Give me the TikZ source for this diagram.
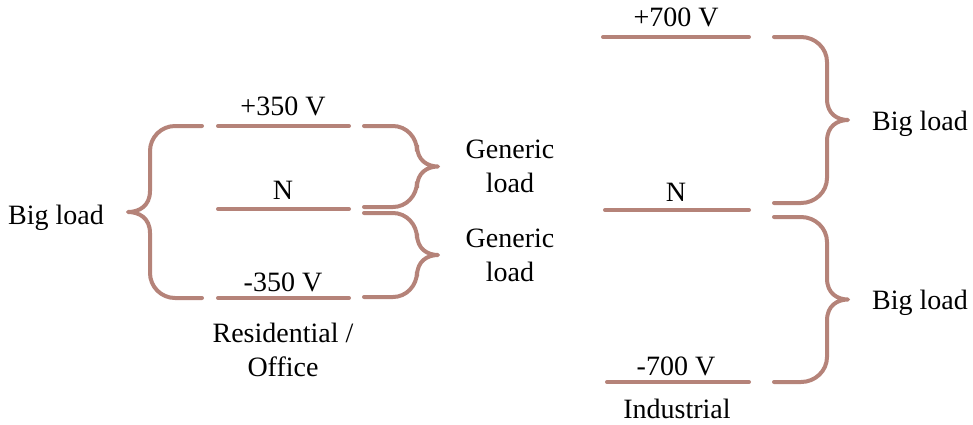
\documentclass[tikz,border=0pt]{standalone}
\usepackage{fontspec}
\setmainfont{Liberation Serif}
\definecolor{brc}{RGB}{181,131,121}
\newcommand{\mybrace}[6]{%
  \pgfmathsetmacro{\ym}{(#4+#5)/2}%
  \draw[wire] (#1,#4) -- ({#2-#6},#4) .. controls ({#2-0.45*#6},#4) and (#2,{#4+0.45*25}) .. (#2,{#4+25})
    -- (#2,{\ym-21}) .. controls (#2,{\ym-6}) and ({(#2+#3)/2},\ym) .. (#3,\ym)
    .. controls ({(#2+#3)/2},\ym) and (#2,{\ym+6}) .. (#2,{\ym+21})
    -- (#2,{#5-25}) .. controls (#2,{#5-0.45*25}) and ({#2-0.45*#6},#5) .. ({#2-#6},#5) -- (#1,#5);}
\begin{document}
\begin{tikzpicture}[x=1pt,y=-1pt,
  wire/.style={draw=brc,line width=4pt,line cap=round,line join=round},
  lbl/.style={font=\fontsize{28}{34}\selectfont,inner sep=0pt,anchor=base},
  ml/.style={font=\fontsize{28}{34}\selectfont,inner sep=0pt,align=center}]
\useasboundingbox (0,0) rectangle (973,424);
% left bus
\draw[wire] (218,126) -- (349,126);
\draw[wire] (218,209) -- (349,209);
\draw[wire] (218,298) -- (349,298);
\node[lbl] (p350) at (283,115) {+350 V};
\node[lbl] (nl) at (283,199) {N};
\node[lbl] (m350) at (283,291) {-350 V};
\node[ml] (res) at (283,350) {Residential /\\Office};
% left big brace
\mybrace{202}{150}{128}{126}{298}{-25}
\node[lbl] (bl1) at (56,224) {Big load};
% generic braces
\mybrace{364}{417}{438}{126}{207}{24}
\mybrace{364}{417}{438}{213}{297}{24}
\node[ml] (g1) at (510,166) {Generic\\load};
\node[ml] (g2) at (510,255) {Generic\\load};
% right bus
\draw[wire] (603,37) -- (749,37);
\draw[wire] (605,210) -- (749,210);
\draw[wire] (607,382) -- (749,382);
\node[lbl] (p700) at (676,26) {+700 V};
\node[lbl] (nr) at (676,201) {N};
\node[lbl] (m700) at (676,375) {-700 V};
\node[lbl] (ind) at (677,418) {Industrial};
\mybrace{774}{827}{848}{37}{203}{26}
\mybrace{774}{827}{848}{217}{382}{26}
\node[lbl] (bl2) at (920,130) {Big load};
\node[lbl] (bl3) at (920,309) {Big load};
\end{tikzpicture}
\end{document}
